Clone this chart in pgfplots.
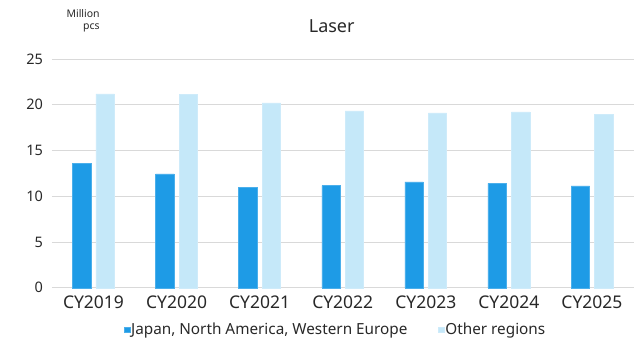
\documentclass[border=0pt]{standalone}
\usepackage{pgfplots}
\pgfplotsset{compat=1.18}
\usepackage{fontspec}
\setmainfont{Noto Sans}
\definecolor{darkb}{RGB}{30,155,230}
\definecolor{lightb}{RGB}{197,232,249}
\definecolor{gridc}{RGB}{217,217,217}
\definecolor{txt}{RGB}{40,40,40}
\begin{document}
\begin{tikzpicture}[x=1pt,y=1pt]
\begin{axis}[
  name=ax,
  at={(0,0)}, anchor=south west,
  scale only axis,
  width=582pt, height=229pt,
  xmin=-0.5, xmax=6.5,
  ymin=0, ymax=25,
  ytick={0,5,...,25},
  xtick=data,
  xticklabels={CY2019,CY2020,CY2021,CY2022,CY2023,CY2024,CY2025},
  axis x line*=bottom,
  axis y line*=left,
  y axis line style={draw=none},
  x axis line style={draw=gridc, line width=1pt, -},
  ymajorgrids,
  grid style={draw=gridc, line width=0.9pt},
  major tick length=0pt,
  xticklabel style={font=\fontsize{17.5}{19}\selectfont, text=txt, yshift=-5pt},
  yticklabel style={font=\fontsize{14.5}{16}\selectfont, text=txt, xshift=-5.5pt},
  /pgf/number format/assume math mode=true,
  legend columns=2,
  legend style={draw=none, fill=none, at={(0.487,-0.183)}, anchor=center,
    font=\fontsize{15.3}{17}\selectfont, text=txt,
    nodes={inner sep=1pt},
    /tikz/every even column/.append style={column sep=30pt},
    /tikz/every odd column/.append style={column sep=0pt},
    inner sep=0pt},
  legend image code/.code={\fill[#1] (0pt,-2.7pt) rectangle (5.5pt,2.8pt);},
  legend cell align=left,
  clip=false,
]
\addplot[ybar, bar width=18.5pt, bar shift=-11.7pt, fill=darkb, draw=darkb!80!white, line width=0.5pt] coordinates {
 (0,13.58) (1,12.44) (2,11.0) (3,11.16) (4,11.56) (5,11.41) (6,11.12)};
\addplot[ybar, bar width=18.5pt, bar shift=11.7pt, fill=lightb, draw=lightb!85!white, line width=0.5pt] coordinates {
 (0,21.18) (1,21.1) (2,20.19) (3,19.34) (4,19.12) (5,19.23) (6,18.94)};
\legend{{Japan, North America, Western Europe}, {Other regions}}
\node[font=\fontsize{18}{20}\selectfont, text=txt] at (rel axis cs:0.481,1) [yshift=33pt] {Laser};
\end{axis}
\node[anchor=east, align=right, font=\fontsize{10.5}{11}\selectfont, text=txt, inner sep=0pt] at (48,267) {Million\\[1.5pt]pcs};
\useasboundingbox (-52,-55) rectangle (582,288);
\end{tikzpicture}
\end{document}
